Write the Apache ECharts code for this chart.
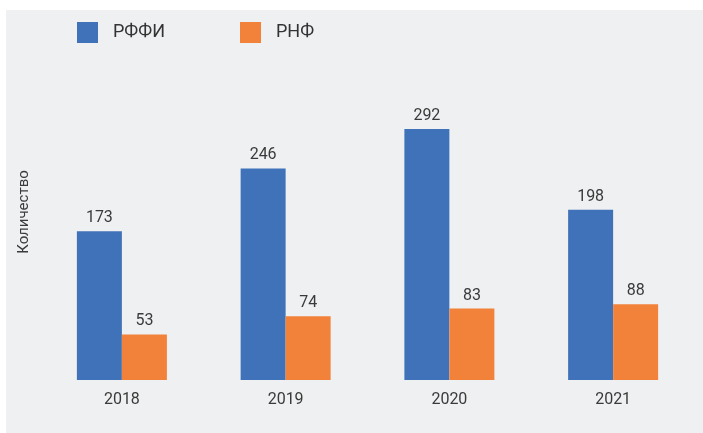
<!DOCTYPE html>
<html lang="ru">
<head>
  <meta charset="UTF-8">
  <title>РФФИ / РНФ</title>
  <style>
    html, body { margin: 0; padding: 0; background: #ffffff; }
  </style>
</head>
<body>
<div id="main" style="width:703px; height:433px;"></div>
<script src="https://cdn.jsdelivr.net/npm/echarts@6/dist/echarts.min.js"></script>
<script>
  var years = ['2018', '2019', '2020', '2021'];
  var rffi = [173, 246, 292, 198];
  var rnf = [53, 74, 83, 88];
  var seriesNames = ['РФФИ', 'РНФ'];
  var axisName = 'Количество';

  var myChart = echarts.init(document.getElementById('main'));
  var font = 'Roboto';

  var barLabel = {
    show: true,
    position: 'top',
    distance: 5,
    color: '#3a3a3a',
    fontSize: 16,
    fontFamily: font
  };

  var option = {
    backgroundColor: '#ffffff',
    animation: false,
    graphic: [
      {
        type: 'rect',
        z: -10,
        shape: { x: 6, y: 10, width: 697, height: 423 },
        style: { fill: '#eff0f2' }
      },
      {
        type: 'text',
        x: 24,
        y: 212,
        rotation: Math.PI / 2,
        style: {
          text: axisName,
          fill: '#3a3a3a',
          fontSize: 15,
          fontFamily: font,
          align: 'center',
          verticalAlign: 'middle'
        }
      }
    ],
    legend: {
      left: 72,
      top: 17,
      itemWidth: 21,
      itemHeight: 21,
      itemGap: 75,
      icon: 'rect',
      textStyle: { color: '#333333', fontSize: 18, fontFamily: font, padding: [0, 0, 0, 10] },
      data: seriesNames
    },
    grid: { left: 40, right: 8, top: 122, bottom: 53 },
    xAxis: {
      type: 'category',
      data: years,
      axisLine: { show: false },
      axisTick: { show: false },
      axisLabel: { color: '#3a3a3a', fontSize: 16, fontFamily: font, margin: 12 }
    },
    yAxis: {
      type: 'value',
      min: 0,
      max: 300,
      show: false
    },
    series: [
      {
        name: seriesNames[0],
        type: 'bar',
        data: rffi,
        barWidth: 45,
        barGap: '0%',
        itemStyle: { color: '#3f72b9' },
        label: barLabel
      },
      {
        name: seriesNames[1],
        type: 'bar',
        data: rnf,
        barWidth: 45,
        barGap: '0%',
        itemStyle: { color: '#f2823a' },
        label: barLabel
      }
    ]
  };

  myChart.setOption(option);
</script>
</body>
</html>
